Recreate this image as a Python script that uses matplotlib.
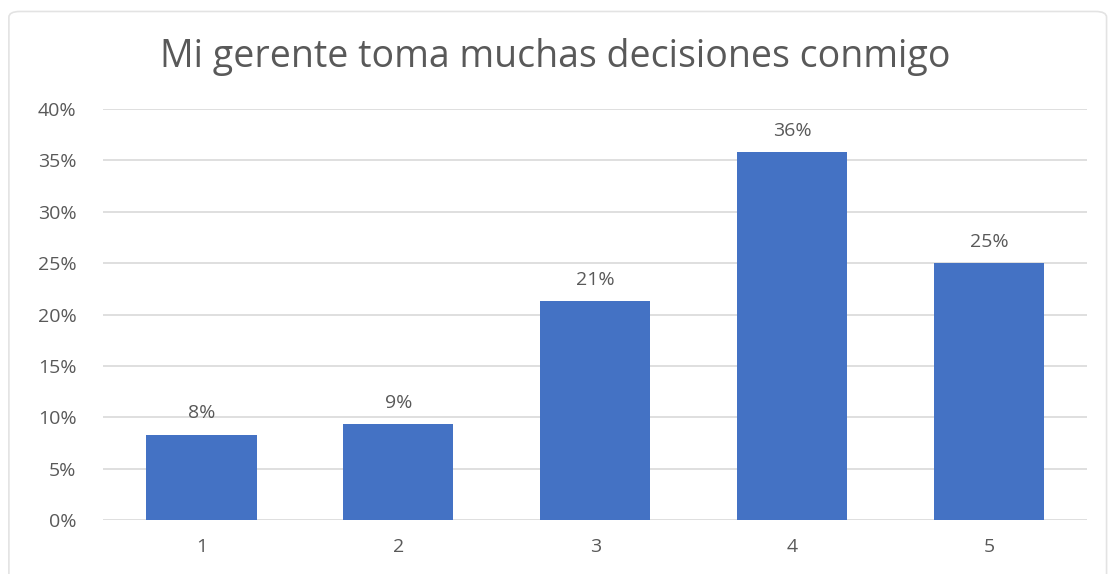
import matplotlib.pyplot as plt
from matplotlib.patches import FancyBboxPatch
from matplotlib.ticker import PercentFormatter

# respuestas de la encuesta (escala 1-5)
categorias = ["1", "2", "3", "4", "5"]
porcentajes = [0.083, 0.093, 0.213, 0.358, 0.250]
titulo = "Mi gerente toma muchas decisiones conmigo"

plt.rcParams['font.family'] = ['Open Sans', 'DejaVu Sans']
gris = "#595959"

fig = plt.figure(figsize=(11.11, 5.74), dpi=100)
ax = fig.add_axes([0.0927, 0.094, 0.886, 0.716])

# marco del gráfico
marco = FancyBboxPatch((0.008, -0.02), 0.988, 1.0, boxstyle="round,pad=0,rounding_size=0.01",
                       transform=fig.transFigure, facecolor="white", edgecolor="#E3E3E3",
                       linewidth=1.2, zorder=-10)
fig.patches.append(marco)

x = range(1, len(categorias) + 1)
barras = ax.bar(x, porcentajes, width=0.56, color="#4472C4", zorder=3)
for b, v in zip(barras, porcentajes):
    ax.text(b.get_x() + b.get_width() / 2, v + 0.012, f"{v:.0%}", ha="center", va="bottom",
            fontsize=14, color=gris)

ax.set_xlim(0.5, 5.5)
ax.set_ylim(0, 0.40)
ax.set_xticks(list(x))
ax.set_xticklabels(categorias)
ax.set_yticks([i * 0.05 for i in range(9)])
ax.yaxis.set_major_formatter(PercentFormatter(1.0, decimals=0))
ax.tick_params(length=0, labelsize=14, labelcolor=gris)
ax.tick_params(axis="y", pad=19)
ax.tick_params(axis="x", pad=13)
ax.grid(axis="y", color="#D9D9D9", linewidth=1.2, zorder=0)
for s in ax.spines.values():
    s.set_visible(False)
ax.set_facecolor("none")

fig.text(0.5, 0.9, titulo, ha="center", va="center", fontsize=27, color=gris)

plt.savefig("out.png", dpi=100)
